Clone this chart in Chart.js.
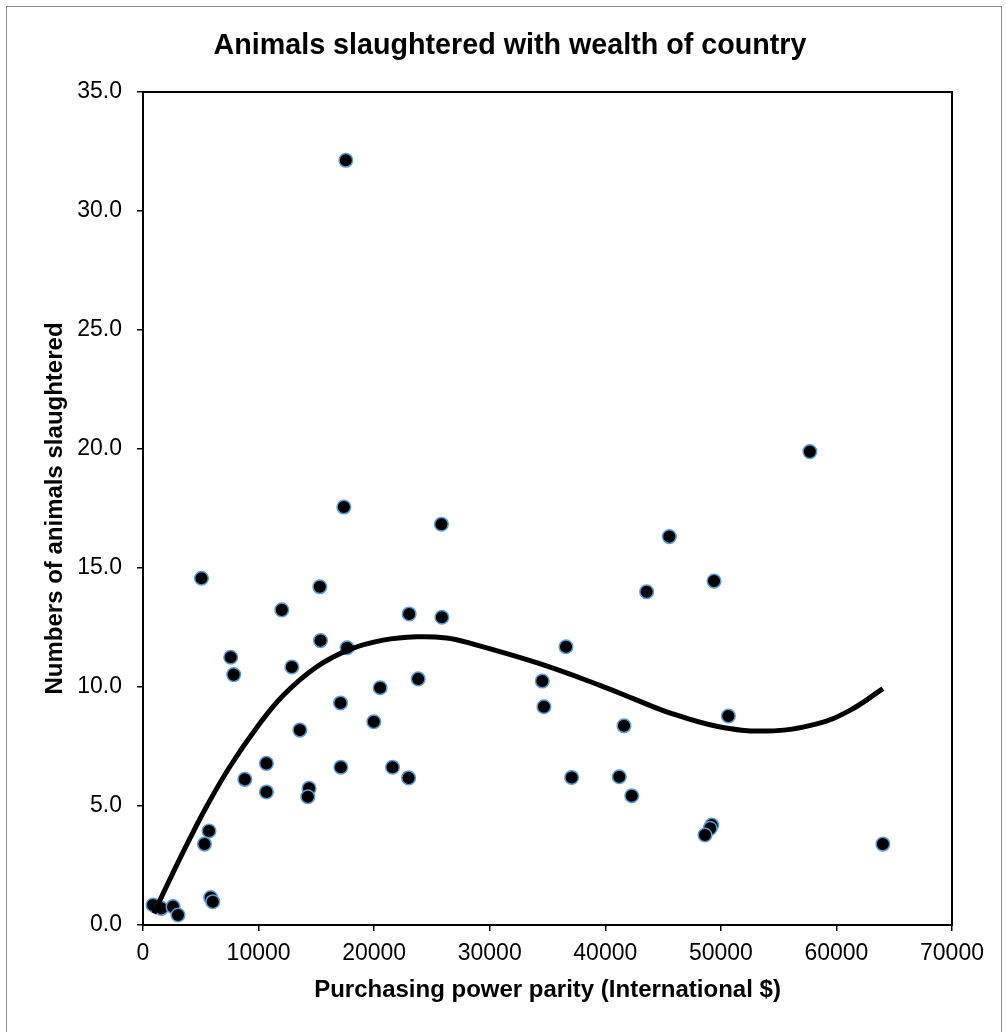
<!DOCTYPE html>
<html>
<head>
<meta charset="utf-8">
<title>Animals slaughtered with wealth of country</title>
<script src="https://cdn.jsdelivr.net/npm/chart.js@4.4.1/dist/chart.umd.min.js"></script>
<style>
  body { margin: 0; background: #fff; }
  #wrap { position: relative; width: 1006px; height: 1032px; overflow: hidden; }
  #frame { position: absolute; left: 6px; top: 6px; width: 996px; height: 1040px; border: 1px solid #8c8c8c; box-sizing: border-box; }
  #chart { position: absolute; left: 0; top: 0; }
  #title {
    position: absolute; left: 210px; top: 27px; width: 600px; text-align: center;
    font: bold 28.7px 'Liberation Sans', Arial, sans-serif; line-height: 34px; color: #000;
    z-index: 2;
  }
</style>
</head>
<body>
<div id="wrap">
  <div id="frame"></div>
  <canvas id="chart" width="1006" height="1032"></canvas>
  <div id="title">Animals slaughtered with wealth of country</div>
</div>
<script>
/* =======================
   DATA
======================= */
// purchasing power parity per country (International $)
const pppValues = [
  5060, 15300, 12010, 23030, 25860, 15360, 17660, 7590, 7850, 12880,
  23810, 20520, 17090, 19970, 13570, 10680, 17120, 21590, 8810, 22980,
  10680, 14370, 14260, 5710, 5320, 5860, 6040, 870, 1590, 2600,
  3030, 17550, 17380, 25820, 45540, 43580, 49410, 36600, 34550, 34690,
  41620, 50650, 37090, 41210, 42290, 57700, 49210, 49070, 48630, 64020
];

// animals slaughtered, same order as pppValues
const slaughtered = [
  14.57, 14.21, 13.24, 13.07, 12.93, 11.95, 11.65, 11.25, 10.52, 10.84,
  10.34, 9.97, 9.33, 8.54, 8.19, 6.79, 6.63, 6.63, 6.12, 6.18,
  5.59, 5.74, 5.39, 3.95, 3.40, 1.15, 0.98, 0.84, 0.70, 0.77,
  0.42, 32.13, 17.56, 16.84, 16.32, 14.00, 14.45, 11.69, 10.25, 9.17,
  8.37, 8.78, 6.20, 6.23, 5.43, 19.89, 4.20, 4.06, 3.78, 3.40
];

// trendline
const trendX = [930, 2600, 4040, 5490, 7510, 9820, 12120, 15010, 17900, 20780,
  23670, 26270, 28290, 34060, 39540, 42420, 45310, 49640, 53970,
  58300, 61200, 64020];
const trendY = [0.49, 2.20, 3.62, 4.97, 6.65, 8.28, 9.64, 10.84, 11.58, 11.97,
  12.11, 12.06, 11.84, 11.02, 10.07, 9.51, 8.96, 8.35, 8.15,
  8.45, 9.03, 9.93];

// axis ticks
const xTicks = [0, 10000, 20000, 30000, 40000, 50000, 60000, 70000];
const yTicks = [0, 5, 10, 15, 20, 25, 30, 35];

/* =======================
   HELPERS
======================= */
const FONT = "'Liberation Sans', Arial, sans-serif";

const toPoints = (xs, ys) => xs.map((x, i) => ({ x: x, y: ys[i] }));

// box around the plot area
const plotFrame = {
  id: "plotFrame",
  beforeDatasetsDraw(chart) {
    const { ctx, chartArea: a } = chart;
    ctx.save();
    ctx.strokeStyle = "#000";
    ctx.lineWidth = 2;
    ctx.strokeRect(a.left, a.top, a.right - a.left, a.bottom - a.top);
    ctx.restore();
  }
};

/* =======================
   CHART
======================= */
new Chart(document.getElementById("chart"), {
  type: "scatter",
  data: {
    datasets: [
      {
        label: "Trend",
        type: "line",
        data: toPoints(trendX, trendY),
        borderColor: "#000",
        borderWidth: 5,
        pointRadius: 0,
        fill: false,
        tension: 0.4,
        order: 0
      },
      {
        label: "Countries",
        data: toPoints(pppValues, slaughtered),
        backgroundColor: "#000",
        borderColor: "#5b9bd5",
        borderWidth: 1.5,
        pointRadius: 6.8,
        order: 1
      }
    ]
  },
  options: {
    responsive: false,
    animation: false,
    devicePixelRatio: 1,
    layout: { padding: { left: 0, right: 54, top: 92, bottom: 0 } },
    plugins: {
      legend: { display: false },
      tooltip: { enabled: false },
      title: { display: false }
    },
    scales: {
      x: {
        type: "linear",
        min: 0,
        max: 70000,
        afterBuildTicks: (s) => { s.ticks = xTicks.map(v => ({ value: v })); },
        afterFit: (s) => { s.height = 107; },
        grid: { drawOnChartArea: false, drawTicks: true, tickLength: 6, color: "#000", lineWidth: 1.5 },
        border: { display: true, color: "#000", width: 2 },
        ticks: {
          color: "#000",
          padding: 9,
          maxRotation: 0,
          font: { family: FONT, size: 23 },
          callback: (v) => String(v)
        },
        title: {
          display: true,
          text: "Purchasing power parity (International $)",
          color: "#000",
          font: { family: FONT, size: 24, weight: "bold" },
          padding: { top: 0, bottom: 27 }
        }
      },
      y: {
        type: "linear",
        min: 0,
        max: 35,
        afterBuildTicks: (s) => { s.ticks = yTicks.map(v => ({ value: v })); },
        afterFit: (s) => { s.width = 143; },
        grid: { drawOnChartArea: false, drawTicks: true, tickLength: 6, color: "#000", lineWidth: 1.5 },
        border: { display: true, color: "#000", width: 2 },
        ticks: {
          color: "#000",
          padding: 15,
          font: { family: FONT, size: 23 },
          callback: (v) => Number(v).toFixed(1)
        },
        title: {
          display: true,
          text: "Numbers of animals slaughtered",
          color: "#000",
          font: { family: FONT, size: 24, weight: "bold" },
          padding: { top: 41, bottom: 0 }
        }
      }
    }
  },
  plugins: [plotFrame]
});
</script>
</body>
</html>
